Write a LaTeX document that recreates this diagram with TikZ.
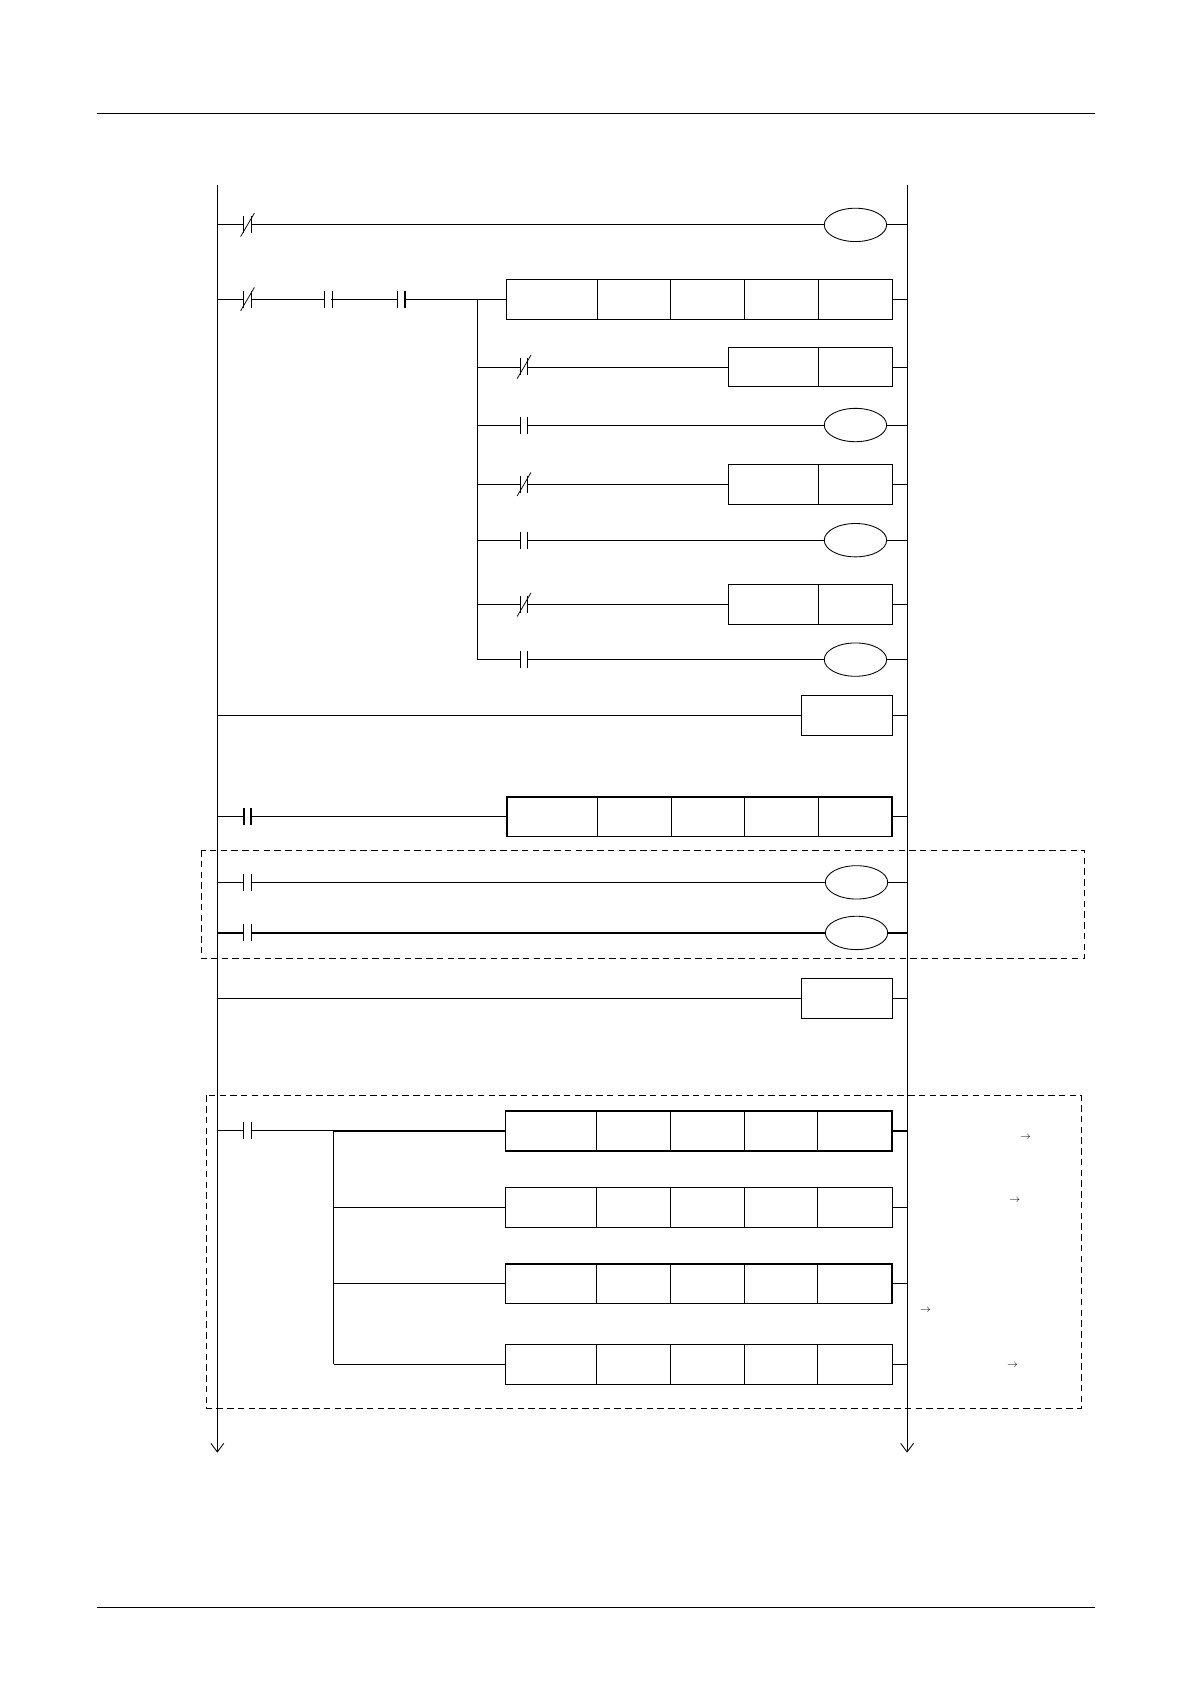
\documentclass[tikz,border=0pt]{standalone}
\usetikzlibrary{arrows.meta,shapes.geometric}
\tikzset{
  gap/.style={fill=white,inner sep=0pt,minimum width=6pt,minimum height=15pt},
  coil/.style={draw,ellipse,minimum width=58pt,minimum height=31pt,inner sep=0pt,fill=white},
  fb/.style={draw,fill=white,minimum height=37pt,inner sep=0pt},
  frame/.style={draw,thick,dash pattern=on 6pt off 4pt}
}
% contact: #1 name, #2 position, #3 line width
\newcommand{\nocon}[3]{\node[gap] (#1) at (#2) {};
  \draw[line width=#3] (#1.north west) -- (#1.south west) (#1.north east) -- (#1.south east);}
\newcommand{\nccon}[3]{\nocon{#1}{#2}{#3}
  \draw[line width=0.7pt] ([xshift=-3pt,yshift=-3pt]#1.south west) -- ([xshift=3pt,yshift=3pt]#1.north east);}
\begin{document}
\begin{tikzpicture}[x=1pt,y=-1pt,line width=0.8pt]
\useasboundingbox (0,0) rectangle (1106,1565);
    % Page rules
    \draw[line width=0.6pt] (90,105) -- (1018,105);
    \draw[line width=0.6pt] (90,1494) -- (1018,1494);

    % Rails
    \coordinate (lt) at (202,172); \coordinate (lb) at (202,1350);
    \coordinate (rt) at (843,172); \coordinate (rb) at (843,1350);
    \draw[-{Straight Barb[length=8pt,width=12pt]}] (lt) -- (lb);
    \draw[-{Straight Barb[length=8pt,width=12pt]}] (rt) -- (rb);

    % Rung 1
    \draw (202,209) -- (843,209);
    \nccon{c1}{230,209}{1.2pt}
    \node[coil] (y1) at (795,209) {};

    % Rung 2
    \draw (202,278) -- (471,278) (829,278) -- (843,278);
    \nccon{c2}{230,278}{1.2pt}
    \nocon{c3}{305,278}{0.6pt}
    \nocon{c4}{373,278}{1.4pt}
    \node[fb,minimum width=358pt] (f1) at (650,278) {};
    \foreach \x in {555,623,692,761} \draw (\x,260) -- (\x,297);
    \coordinate (j1) at (444,278);
    \coordinate (j2) at (444,613);
    \draw (j1) -- (j2);

    % Branches
    \foreach \y in {341,395,450,502,562,613} {
      \draw (444,\y) -- (843,\y);
    }
    \nccon{b1}{487,341}{0.9pt}
    \nocon{b2}{487,395}{1.2pt}
    \nccon{b3}{487,450}{1.2pt}
    \nocon{b4}{487,502}{0.8pt}
    \nccon{b5}{487,562}{1.2pt}
    \nocon{b6}{487,613}{0.8pt}
    \foreach \y [count=\i] in {341,450,562} {
      \node[fb,minimum width=152pt] (g\i) at (753,\y) {};
      \draw (761,\y-18.5) -- (761,\y+18.5);
    }
    \foreach \y [count=\i] in {395,502,613} \node[coil] (y\i b) at (795,\y) {};

    % Rung 3
    \draw (202,665) -- (843,665);
    \node[fb,minimum width=84pt] (e1) at (787,665) {};

    % Rung 4
    \draw[line width=1.3pt] (202,759) -- (843,759);
    \nocon{c5}{230,759}{1.3pt}
    \node[fb,line width=1.3pt,minimum width=358pt] (f2) at (650,759) {};
    \foreach \x in {555,624,692,761} \draw (\x,741) -- (\x,777);

    % Dashed group 1
    \draw[frame] (187,790) rectangle (1008,891);
    \foreach \y [count=\i] in {820,867} {
      \draw[line width=1.3pt] (202,\y) -- (843,\y);
      \nocon{d\i}{230,\y}{1.2pt}
      \node[coil] (z\i) at (796,\y) {};
    }

    % Rung 5
    \draw[line width=1.3pt] (202,928) -- (843,928);
    \node[fb,minimum width=84pt] (e2) at (787,928) {};

    % Dashed group 2
    \draw[frame] (192,1018) rectangle (1005,1309);
    \draw (202,1051) -- (310,1051);
    \nocon{c6}{230,1051}{1.2pt}
    \coordinate (k1) at (310,1051);
    \coordinate (k2) at (310,1268);
    \draw (k1) -- (k2);
    \foreach \y/\w [count=\i] in {1051/1.3pt,1122/0.8pt,1193/1.3pt,1268/0.8pt} {
      \draw[line width=\w] (310,\y) -- (470,\y) (829,\y) -- (843,\y);
      \node[fb,line width=\w,minimum width=359pt] (h\i) at (649.5,\y) {};
      \foreach \x in {554,623,692,760} \draw (\x,\y-18.5) -- (\x,\y+18.5);
    }
    \node (a1) at (953,1057) {$\rightarrow$};
    \node (a2) at (943,1116) {$\rightarrow$};
    \node (a3) at (860,1218) {$\rightarrow$};
    \node (a4) at (941,1269) {$\rightarrow$};
\end{tikzpicture}
\end{document}
